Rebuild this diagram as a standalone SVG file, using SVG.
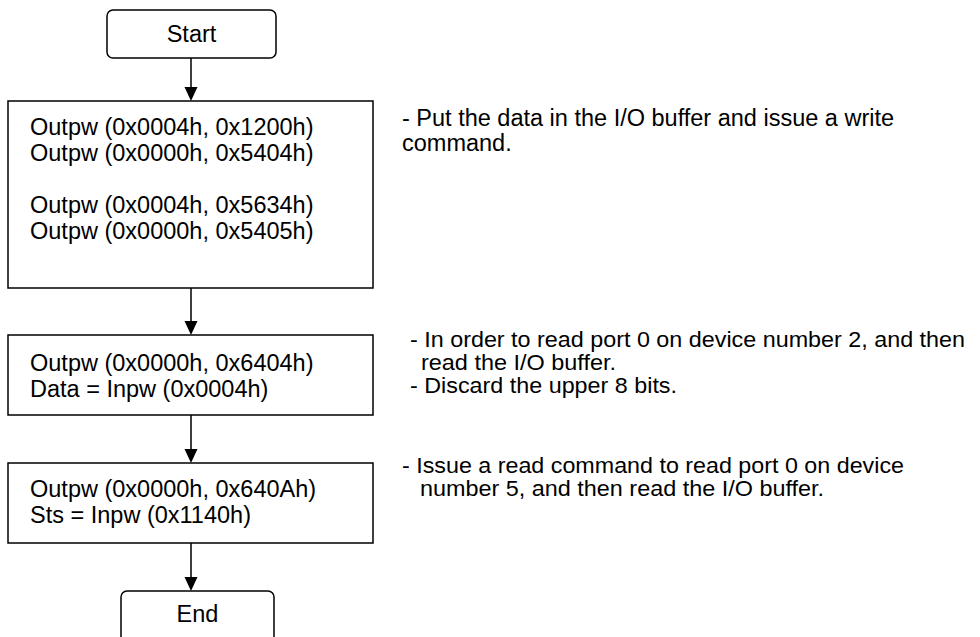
<svg xmlns="http://www.w3.org/2000/svg" width="980" height="637" viewBox="0 0 980 637">
<style>
.box{fill:#fff;stroke:#000;stroke-width:1.5}
.t{font-family:"Liberation Sans",Arial,sans-serif;font-size:23.5px;fill:#000}
.c{font-family:"Liberation Sans",Arial,sans-serif;font-size:22.5px;fill:#000}
.e{stroke:#000;stroke-width:1.5;fill:none}
.ah{fill:#000}
</style>
<rect width="980" height="637" fill="#fff"/>
<g id="connectors">
<line class="e" x1="191" y1="58" x2="191" y2="88"/>
<path class="ah" d="M184.5,87 L197.5,87 L191,101 z"/>
<line class="e" x1="191" y1="288" x2="191" y2="322"/>
<path class="ah" d="M184.5,321 L197.5,321 L191,335 z"/>
<line class="e" x1="191" y1="415" x2="191" y2="450"/>
<path class="ah" d="M184.5,449 L197.5,449 L191,463 z"/>
<line class="e" x1="191" y1="543" x2="191" y2="578"/>
<path class="ah" d="M184.5,577 L197.5,577 L191,591 z"/>
</g>
<g id="start">
<rect class="box" x="107" y="10" width="169" height="48" rx="6"/>
<text class="t" x="191.5" y="42" text-anchor="middle">Start</text>
</g>
<g id="step1">
<rect class="box" x="8" y="101" width="365" height="187"/>
<text class="t" x="30" y="135">Outpw (0x0004h, 0x1200h)</text>
<text class="t" x="30" y="161">Outpw (0x0000h, 0x5404h)</text>
<text class="t" x="30" y="213">Outpw (0x0004h, 0x5634h)</text>
<text class="t" x="30" y="239">Outpw (0x0000h, 0x5405h)</text>
</g>
<g id="step2">
<rect class="box" x="8" y="335" width="365" height="80"/>
<text class="t" x="30" y="371">Outpw (0x0000h, 0x6404h)</text>
<text class="t" x="30" y="397">Data = Inpw (0x0004h)</text>
</g>
<g id="step3">
<rect class="box" x="8" y="463" width="365" height="80"/>
<text class="t" x="30" y="497">Outpw (0x0000h, 0x640Ah)</text>
<text class="t" x="30" y="523">Sts = Inpw (0x1140h)</text>
</g>
<g id="end">
<rect class="box" x="121" y="591" width="153" height="60" rx="6"/>
<text class="t" x="197.5" y="622" text-anchor="middle">End</text>
</g>
<g id="note1">
<text class="t" x="402" y="126">- Put the data in the I/O buffer and issue a write</text>
<text class="t" x="402" y="151">command.</text>
</g>
<g id="note2">
<text class="c" x="410" y="347" textLength="555" lengthAdjust="spacingAndGlyphs">- In order to read port 0 on device number 2, and then</text>
<text class="c" x="421" y="370" textLength="195" lengthAdjust="spacingAndGlyphs">read the I/O buffer.</text>
<text class="c" x="410" y="393" textLength="267" lengthAdjust="spacingAndGlyphs">- Discard the upper 8 bits.</text>
</g>
<g id="note3">
<text class="c" x="402" y="473" textLength="502" lengthAdjust="spacingAndGlyphs">- Issue a read command to read port 0 on device</text>
<text class="c" x="420" y="496" textLength="404" lengthAdjust="spacingAndGlyphs">number 5, and then read the I/O buffer.</text>
</g>
</svg>
